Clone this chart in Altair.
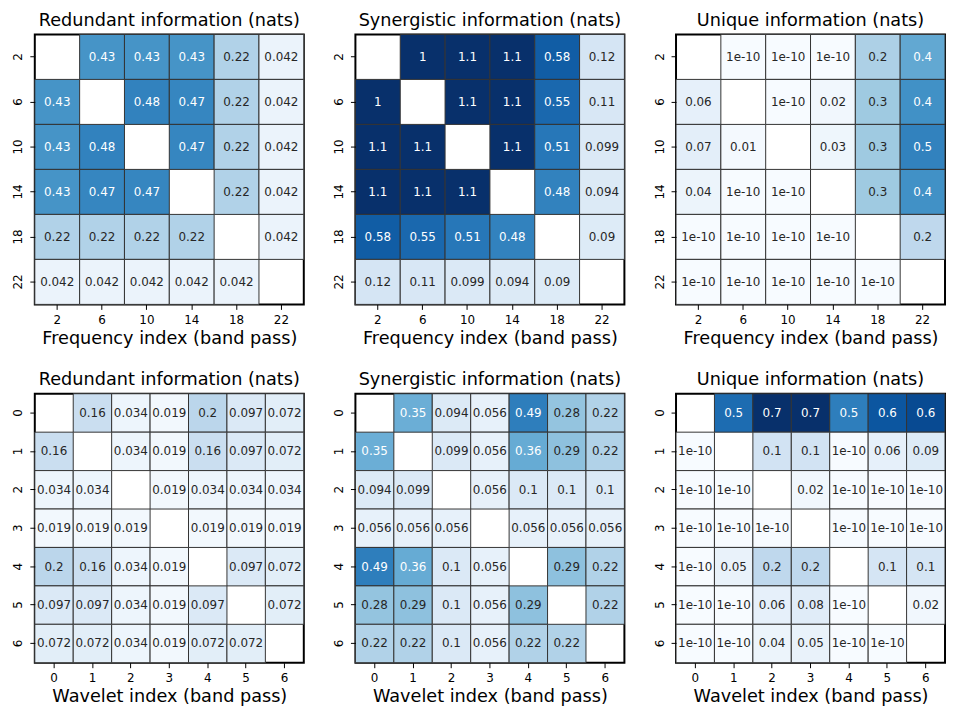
import altair as alt
import pandas as pd

FREQ = ["2", "6", "10", "14", "18", "22"]
WAVE = ["0", "1", "2", "3", "4", "5", "6"]

RED_FREQ = [
    [None, 0.43, 0.43, 0.43, 0.22, 0.042],
    [0.43, None, 0.48, 0.47, 0.22, 0.042],
    [0.43, 0.48, None, 0.47, 0.22, 0.042],
    [0.43, 0.47, 0.47, None, 0.22, 0.042],
    [0.22, 0.22, 0.22, 0.22, None, 0.042],
    [0.042, 0.042, 0.042, 0.042, 0.042, None],
]
SYN_FREQ = [
    [None, 1.0, 1.1, 1.1, 0.58, 0.12],
    [1.0, None, 1.1, 1.1, 0.55, 0.11],
    [1.1, 1.1, None, 1.1, 0.51, 0.099],
    [1.1, 1.1, 1.1, None, 0.48, 0.094],
    [0.58, 0.55, 0.51, 0.48, None, 0.09],
    [0.12, 0.11, 0.099, 0.094, 0.09, None],
]
UNI_FREQ = [
    [None, 1e-10, 1e-10, 1e-10, 0.23, 0.37],
    [0.06, None, 1e-10, 0.02, 0.26, 0.44],
    [0.07, 0.01, None, 0.03, 0.26, 0.48],
    [0.04, 1e-10, 1e-10, None, 0.26, 0.44],
    [1e-10, 1e-10, 1e-10, 1e-10, None, 0.19],
    [1e-10, 1e-10, 1e-10, 1e-10, 1e-10, None],
]
RED_WAVE = [
    [None, 0.16, 0.034, 0.019, 0.2, 0.097, 0.072],
    [0.16, None, 0.034, 0.019, 0.16, 0.097, 0.072],
    [0.034, 0.034, None, 0.019, 0.034, 0.034, 0.034],
    [0.019, 0.019, 0.019, None, 0.019, 0.019, 0.019],
    [0.2, 0.16, 0.034, 0.019, None, 0.097, 0.072],
    [0.097, 0.097, 0.034, 0.019, 0.097, None, 0.072],
    [0.072, 0.072, 0.034, 0.019, 0.072, 0.072, None],
]
SYN_WAVE = [
    [None, 0.35, 0.094, 0.056, 0.49, 0.28, 0.22],
    [0.35, None, 0.099, 0.056, 0.36, 0.29, 0.22],
    [0.094, 0.099, None, 0.056, 0.1, 0.1, 0.1],
    [0.056, 0.056, 0.056, None, 0.056, 0.056, 0.056],
    [0.49, 0.36, 0.1, 0.056, None, 0.29, 0.22],
    [0.28, 0.29, 0.1, 0.056, 0.29, None, 0.22],
    [0.22, 0.22, 0.1, 0.056, 0.22, 0.22, None],
]
UNI_WAVE = [
    [None, 0.54, 0.7, 0.7, 0.49, 0.6, 0.63],
    [1e-10, None, 0.13, 0.13, 1e-10, 0.06, 0.09],
    [1e-10, 1e-10, None, 0.02, 1e-10, 1e-10, 1e-10],
    [1e-10, 1e-10, 1e-10, None, 1e-10, 1e-10, 1e-10],
    [1e-10, 0.05, 0.19, 0.19, None, 0.12, 0.12],
    [1e-10, 1e-10, 0.06, 0.08, 1e-10, None, 0.02],
    [1e-10, 1e-10, 0.04, 0.05, 1e-10, 1e-10, None],
]

TITLES = ["Redundant information (nats)", "Synergistic information (nats)", "Unique information (nats)"]
XTITLES = ["Frequency index (band pass)", "Wavelet index (band pass)"]

BLUES = ["#f7fbff", "#deebf7", "#c6dbef", "#9ecae1", "#6baed6",
         "#4292c6", "#2171b5", "#08519c", "#08306b"]
VMAX = 0.7
FONT = "DejaVu Sans"
W = 271
H_TOP, H_BOT = 272, 271
BIG = 17.8


def long_form(mat, cats, fmt):
    rows = []
    for i, r in enumerate(cats):
        for j, c in enumerate(cats):
            v = mat[i][j]
            if v is None:
                continue
            rows.append({
                "row": r, "col": c, "v": v,
                "label": format(v, fmt),
                "light": 1 if v / VMAX > 0.47 else 0,
            })
    return pd.DataFrame(rows)


def panel(mat, cats, title, xtitle, fmt, h):
    df = long_form(mat, cats, fmt)
    base = alt.Chart(df).encode(
        x=alt.X("col:N", sort=cats, title=xtitle,
                axis=alt.Axis(labelAngle=0, labelPadding=5, titlePadding=4)),
        y=alt.Y("row:N", sort=cats, title=None,
                axis=alt.Axis(labelAngle=270, labelAlign="center",
                              labelBaseline="bottom", labelPadding=5,
                              minExtent=0)),
    )
    rect = base.mark_rect(stroke="#333333", strokeWidth=1).encode(
        color=alt.Color(
            "v:Q",
            scale=alt.Scale(domain=[VMAX * k / 8 for k in range(9)], range=BLUES,
                            clamp=True, interpolate="rgb"),
            legend=None,
        )
    )
    text = base.mark_text(fontSize=12, font=FONT).encode(
        text="label:N",
        color=alt.condition(alt.datum.light == 1, alt.value("white"), alt.value("#262626")),
    )
    return alt.layer(rect, text).properties(
        width=W, height=h,
        title=alt.TitleParams(title, fontSize=BIG, font=FONT, fontWeight="normal",
                              offset=4, frame="group", anchor="middle", color="black"),
    )


top = alt.hconcat(
    panel(RED_FREQ, FREQ, TITLES[0], XTITLES[0], ".2g", H_TOP),
    panel(SYN_FREQ, FREQ, TITLES[1], XTITLES[0], ".2g", H_TOP),
    panel(UNI_FREQ, FREQ, TITLES[2], XTITLES[0], ".1g", H_TOP),
    spacing=25,
)
bottom = alt.hconcat(
    panel(RED_WAVE, WAVE, TITLES[0], XTITLES[1], ".2g", H_BOT),
    panel(SYN_WAVE, WAVE, TITLES[1], XTITLES[1], ".2g", H_BOT),
    panel(UNI_WAVE, WAVE, TITLES[2], XTITLES[1], ".1g", H_BOT),
    spacing=25,
)

chart = alt.vconcat(top, bottom, spacing=22).properties(
    padding={"left": 2, "top": 0, "right": 0, "bottom": 0}
).configure_view(
    stroke="black", strokeWidth=2
).configure_axis(
    labelFont=FONT, labelFontSize=12, labelColor="black",
    titleFont=FONT, titleFontSize=BIG, titleFontWeight="normal", titleColor="black",
    tickColor="black", tickSize=5, tickWidth=1, domain=False, grid=False,
)

chart.save("out.html", embed_options={"renderer": "svg", "actions": False})
